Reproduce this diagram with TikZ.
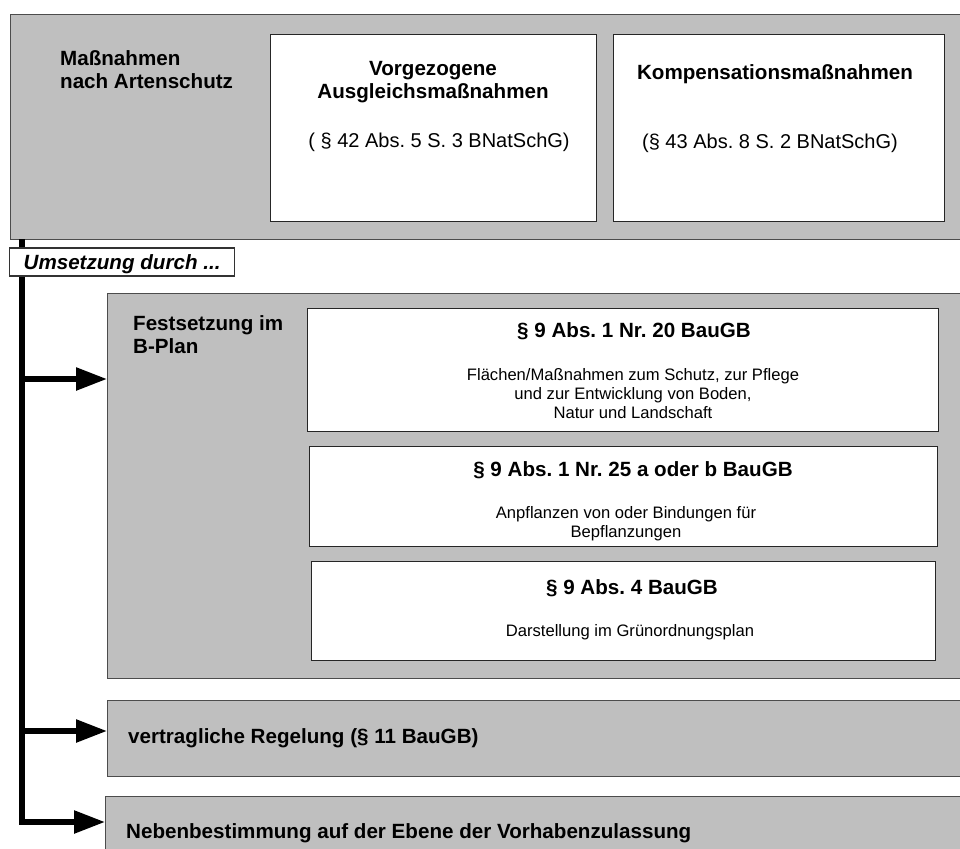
\documentclass[tikz,border=0pt]{standalone}
\usepackage{fontspec}
\setmainfont{Liberation Sans}
\usetikzlibrary{arrows.meta}
\frenchspacing

\begin{document}
\begin{tikzpicture}[x=1pt,y=-1pt,
    grau/.style={draw=black!70, fill=black!25, line width=1.3pt, inner sep=0pt, anchor=north west},
    weiss/.style={draw=black!85, fill=white, line width=1.3pt, inner sep=0pt, anchor=north west},
    titel/.style={font=\fontsize{20.6}{23}\selectfont\bfseries, inner sep=0pt},
    normal/.style={font=\fontsize{20}{23}\selectfont, inner sep=0pt},
    klein/.style={font=\fontsize{16.6}{19}\selectfont, inner sep=0pt, align=center},
    pfeil/.style={line width=5.5pt, -{Triangle[length=31pt,width=22pt]}},
    stamm/.style={line width=5.5pt}]
  \useasboundingbox (0,0) rectangle (960,848);

  % Massnahmen nach Artenschutz
  \node[grau, minimum width=952pt, minimum height=225pt] (arten) at (10,14) {};
  \node[titel, align=left, anchor=base west] (artentitel) at (60,89) {Maßnahmen\\nach Artenschutz};
  \node[weiss, minimum width=326pt, minimum height=187pt] (vorg) at (270,34) {};
  \node[titel, align=center, anchor=base] (vorgtitel) at (433,99) {Vorgezogene\\Ausgleichsmaßnahmen};
  \node[normal, anchor=base] (vorgpar) at (439,147) {( § 42 Abs. 5 S. 3 BNatSchG)};
  \node[weiss, minimum width=331pt, minimum height=187pt] (komp) at (613,34) {};
  \node[titel, anchor=base] (komptitel) at (775,80) {Kompensationsmaßnahmen};
  \node[normal, anchor=base] (komppar) at (770,148) {(§ 43 Abs. 8 S. 2 BNatSchG)};

  % Stamm und Umsetzung
  \coordinate (stammoben) at (22,239);
  \coordinate (stammunten) at (22,824.75);
  \draw[stamm] (stammoben) -- (stammunten);
  \node[titel, font=\fontsize{20.6}{23}\selectfont\bfseries\itshape, draw=black!80, fill=white,
    line width=1.3pt, inner xsep=14pt, inner ysep=6pt, text height=15pt, text depth=1pt,
    anchor=base west] (umsetzung) at (9,269) {Umsetzung durch ...};

  % Festsetzung im B-Plan
  \node[grau, minimum width=855pt, minimum height=385pt] (fest) at (107,293) {};
  \node[titel, align=left, anchor=base west] (festtitel) at (133,353) {Festsetzung im\\B-Plan};

  \node[weiss, minimum width=631pt, minimum height=123pt] (nr20) at (307,308) {};
  \node[titel, anchor=base] (nr20titel) at (634,337) {§ 9 Abs. 1 Nr. 20 BauGB};
  \node[klein, anchor=base] (nr20text) at (633,418) {Flächen/Maßnahmen zum Schutz, zur Pflege\\und zur Entwicklung von Boden,\\Natur und Landschaft};

  \node[weiss, minimum width=628pt, minimum height=100pt] (nr25) at (309,446) {};
  \node[titel, anchor=base] (nr25titel) at (633,476) {§ 9 Abs. 1 Nr. 25 a oder b BauGB};
  \node[klein, anchor=base] (nr25text) at (626,537) {Anpflanzen von oder Bindungen für\\Bepflanzungen};

  \node[weiss, minimum width=624pt, minimum height=99pt] (abs4) at (311,561) {};
  \node[titel, anchor=base] (abs4titel) at (632,594) {§ 9 Abs. 4 BauGB};
  \node[klein, anchor=base] (abs4text) at (630,636) {Darstellung im Grünordnungsplan};

  % Weitere Wege
  \node[grau, minimum width=855pt, minimum height=76pt] (vertrag) at (107,700) {};
  \node[titel, anchor=base west] (vertragtext) at (128,743) {vertragliche Regelung (§ 11 BauGB)};
  \node[grau, minimum width=857pt, minimum height=54pt] (neben) at (105,796) {};
  \node[titel, anchor=base west] (nebentext) at (126,838) {Nebenbestimmung auf der Ebene der Vorhabenzulassung};

  % Pfeile
  \foreach \ziel/\y in {fest/379, vertrag/731, neben/822} {
    \coordinate (ab\ziel) at (22,\y);
    \draw[pfeil] (ab\ziel) -- (ab\ziel -| \ziel.west);
  }
\end{tikzpicture}
\end{document}
